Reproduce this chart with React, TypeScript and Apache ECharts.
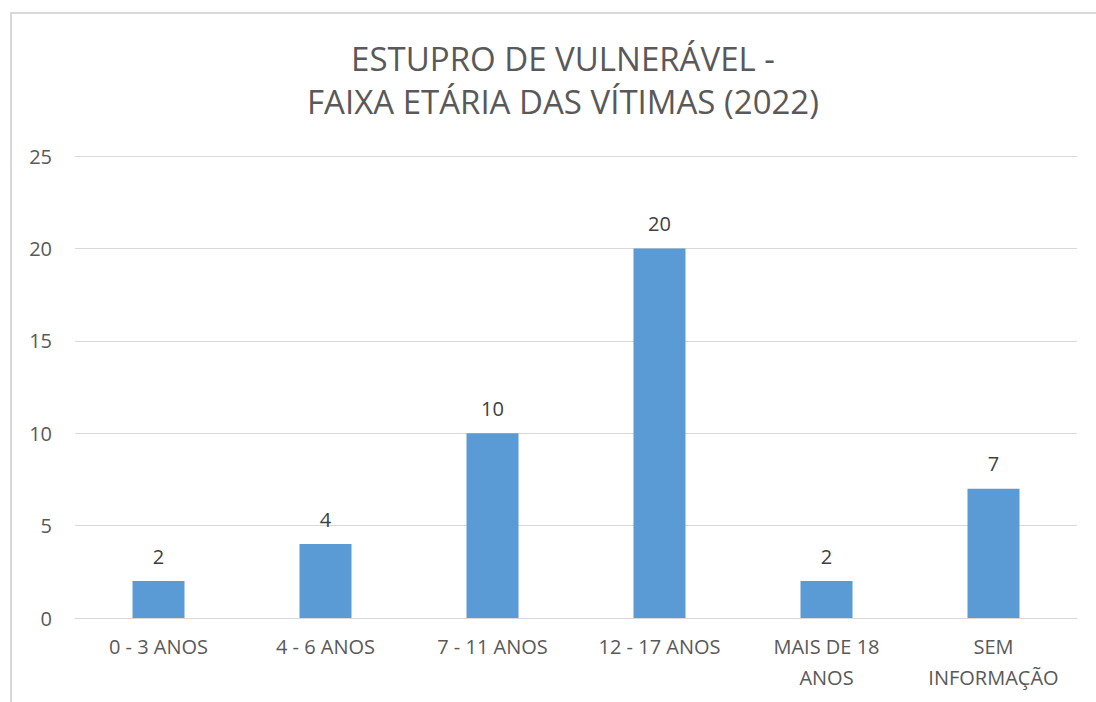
import React, { useEffect, useRef } from "react";
import * as echarts from "echarts";

const titleText = "ESTUPRO DE VULNERÁVEL -\nFAIXA ETÁRIA DAS VÍTIMAS (2022)";
const categories = ["0 - 3 ANOS", "4 - 6 ANOS", "7 - 11 ANOS", "12 - 17 ANOS", "MAIS DE 18\nANOS", "SEM\nINFORMAÇÃO"];
const values = [2, 4, 10, 20, 2, 7];
const yTicks = [0, 5, 10, 15, 20, 25];

const FONT = "'Open Sans', 'Noto Sans', sans-serif";

export default function App() {
  const ref = useRef<HTMLDivElement>(null);
  useEffect(() => {
    document.body.style.margin = "0";
    const chart = echarts.init(ref.current!, null, { renderer: "svg" });
    chart.setOption({
      animation: false,
      backgroundColor: "#ffffff",
      title: {
        text: titleText,
        left: 558,
        textAlign: "center",
        top: 32,
        textStyle: { fontFamily: FONT, fontSize: 33, fontWeight: "normal", color: "#595959", lineHeight: 43 },
      },
      graphic: [
        {
          type: "rect",
          shape: { x: 11, y: 13, width: 1200, height: 800 },
          style: { fill: "none", stroke: "#d9d9d9", lineWidth: 2 },
          silent: true,
        },
      ],
      grid: { left: 75, right: 19, top: 156, bottom: 84 },
      xAxis: {
        type: "category",
        data: categories,
        axisLine: { lineStyle: { color: "#d9d9d9", width: 1 } },
        axisTick: { show: false },
        axisLabel: { fontFamily: FONT, fontSize: 20, color: "#595959", margin: 13, lineHeight: 31, interval: 0 },
      },
      yAxis: {
        type: "value",
        min: yTicks[0],
        max: yTicks[yTicks.length - 1],
        interval: 5,
        axisLine: { show: false },
        axisTick: { show: false },
        splitLine: { lineStyle: { color: "#d9d9d9", width: 1 } },
        axisLabel: { fontFamily: FONT, fontSize: 20, color: "#595959", margin: 23 },
      },
      series: [
        {
          type: "bar",
          data: values,
          barWidth: 52,
          itemStyle: { color: "#5b9bd5" },
          label: { show: true, position: "top", distance: 15, fontFamily: FONT, fontSize: 20, color: "#404040" },
        },
      ],
    });
    return () => chart.dispose();
  }, []);
  return <div ref={ref} style={{ position: "fixed", left: 0, top: 0, width: 1096, height: 702 }} />;
}
